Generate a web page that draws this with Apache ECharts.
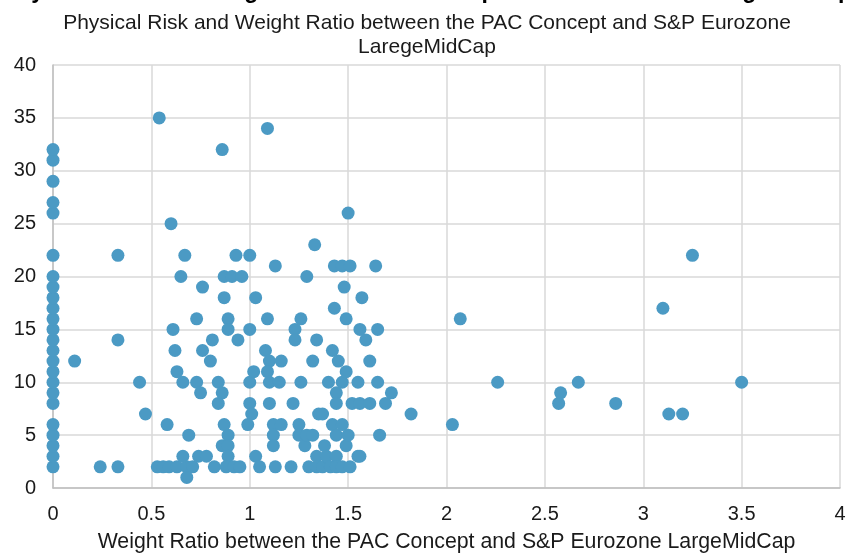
<!DOCTYPE html>
<html>
<head>
<meta charset="utf-8">
<script src="https://cdn.jsdelivr.net/npm/echarts@6/dist/echarts.min.js"></script>
<style>html,body{margin:0;padding:0;background:#fff;}#c{width:854px;height:554px;}</style>
</head>
<body>
<div id="c"></div>
<script>
const chartTitle = 'Physical Risk and Weight Ratio: PAC Concept vs S&P Eurozone LargeMidCap';
const subTitle = 'Physical Risk and Weight Ratio between the PAC Concept and S&P Eurozone\nLaregeMidCap';
const xAxisName = 'Weight Ratio between the PAC Concept and S&P Eurozone LargeMidCap';
const xTicks = [0, 0.5, 1, 1.5, 2, 2.5, 3, 3.5, 4];
const yTicks = [0, 5, 10, 15, 20, 25, 30, 35, 40];

// weight ratio (x) and physical risk (y)
const weightRatio = [
  0,0,0,0,0,0,0,0,0,0,0,0,0,0,0,0,0,0,0,0,0,0,0,0,
  0.11,0.24,0.33,0.33,0.33,0.44,0.47,0.54,0.58,0.60,
  0.53,0.56,0.59,0.63,0.68,0.71,0.68,
  0.61,0.62,0.63,0.66,0.66,0.65,0.67,0.69,
  0.73,0.73,0.75,0.74,0.78,0.76,0.76,0.80,0.81,0.82,
  0.84,0.86,0.84,0.86,0.87,0.91,0.96,0.87,0.89,0.89,0.94,0.93,1.00,1.00,
  0.87,0.89,0.86,0.89,0.89,0.88,0.92,0.95,
  1.00,1.02,1.00,1.01,0.99,1.03,1.03,1.05,
  1.09,1.09,1.08,1.10,1.09,1.10,1.10,1.12,1.12,1.12,1.13,1.13,
  1.15,1.16,1.16,1.21,1.22,1.23,1.23,1.26,1.26,1.25,1.25,1.28,1.29,1.32,
  1.29,1.32,1.30,1.33,1.34,1.34,1.34,1.35,1.37,1.37,1.38,1.39,1.40,1.41,
  1.42,1.42,1.43,1.43,1.44,1.44,1.44,1.44,1.44,1.45,
  1.47,1.47,1.47,1.47,1.48,1.49,1.49,1.49,1.50,1.50,1.51,1.51,1.52,
  1.55,1.55,1.56,1.56,1.56,1.57,1.59,1.61,1.61,1.64,1.65,1.65,1.66,
  1.69,1.72,1.82,2.03,2.07,2.26,2.57,2.58,2.67,2.86,3.10,3.13,3.20,3.25,3.50
];
const physicalRisk = [
  2,3,4,5,6,8,9,10,11,12,13,14,15,16,17,18,19,20,22,26,27,29,31,32,
  12,2,2,14,22,10,7,35,6,25,
  2,2,2,2,2,2,1,
  15,13,11,10,3,20,22,5,
  16,10,9,3,3,19,13,12,14,2,
  10,9,8,32,20,20,20,18,16,15,14,22,22,15,
  6,5,4,4,3,2,2,2,
  10,11,8,7,6,18,3,2,
  34,16,13,12,11,10,8,6,5,4,2,21,
  10,12,6,2,8,15,14,16,10,6,5,4,5,5,
  20,12,2,23,14,3,2,7,7,2,4,3,10,2,
  13,6,17,21,9,8,5,3,2,12,
  21,10,6,2,19,16,11,4,26,5,21,2,8,
  10,3,15,8,3,18,14,12,8,21,15,10,5,
  8,9,7,6,16,10,8,9,10,8,17,7,7,22,10
];

const points = weightRatio.map((x, i) => [x, physicalRisk[i]]);
const font = 'Liberation Sans, Arial, sans-serif';
const chart = echarts.init(document.getElementById('c'), null, {renderer: 'canvas'});
chart.setOption({
  animation: false,
  backgroundColor: '#ffffff',
  title: [
    {text: chartTitle, left: 'center', top: -25,
     textStyle: {fontFamily: font, fontSize: 23, fontWeight: 'bold', color: '#000'}},
    {text: subTitle, left: 'center', top: 6,
     textStyle: {fontFamily: font, fontSize: 21, fontWeight: 'normal', color: '#1a1a1a', lineHeight: 24}}
  ],
  grid: {left: 53, right: 14, top: 65, bottom: 66, containLabel: false, outerBoundsMode: 'none'},
  xAxis: {
    type: 'value', min: 0, max: 4, interval: 0.5,
    name: xAxisName, nameLocation: 'middle', nameGap: 44,
    nameTextStyle: {fontFamily: font, fontSize: 21.3, color: '#1a1a1a'},
    axisLine: {show: true, lineStyle: {color: '#bfbfbf', width: 1.5}},
    axisTick: {show: false},
    axisLabel: {fontFamily: font, fontSize: 20, color: '#1a1a1a', margin: 16,
      formatter: v => String(v)},
    splitLine: {show: true, lineStyle: {color: '#d9d9d9', width: 1.5}}
  },
  yAxis: {
    type: 'value', min: 0, max: 40, interval: 5,
    axisLine: {show: true, lineStyle: {color: '#bfbfbf', width: 1.5}},
    axisTick: {show: false},
    axisLabel: {fontFamily: font, fontSize: 20, color: '#1a1a1a', margin: 17},
    splitLine: {show: true, lineStyle: {color: '#d9d9d9', width: 1.5}}
  },
  series: [{
    type: 'scatter',
    data: points,
    symbol: 'circle',
    symbolSize: 13,
    itemStyle: {color: '#4b9ac4', opacity: 1},
    clip: false
  }]
});
</script>
</body>
</html>
